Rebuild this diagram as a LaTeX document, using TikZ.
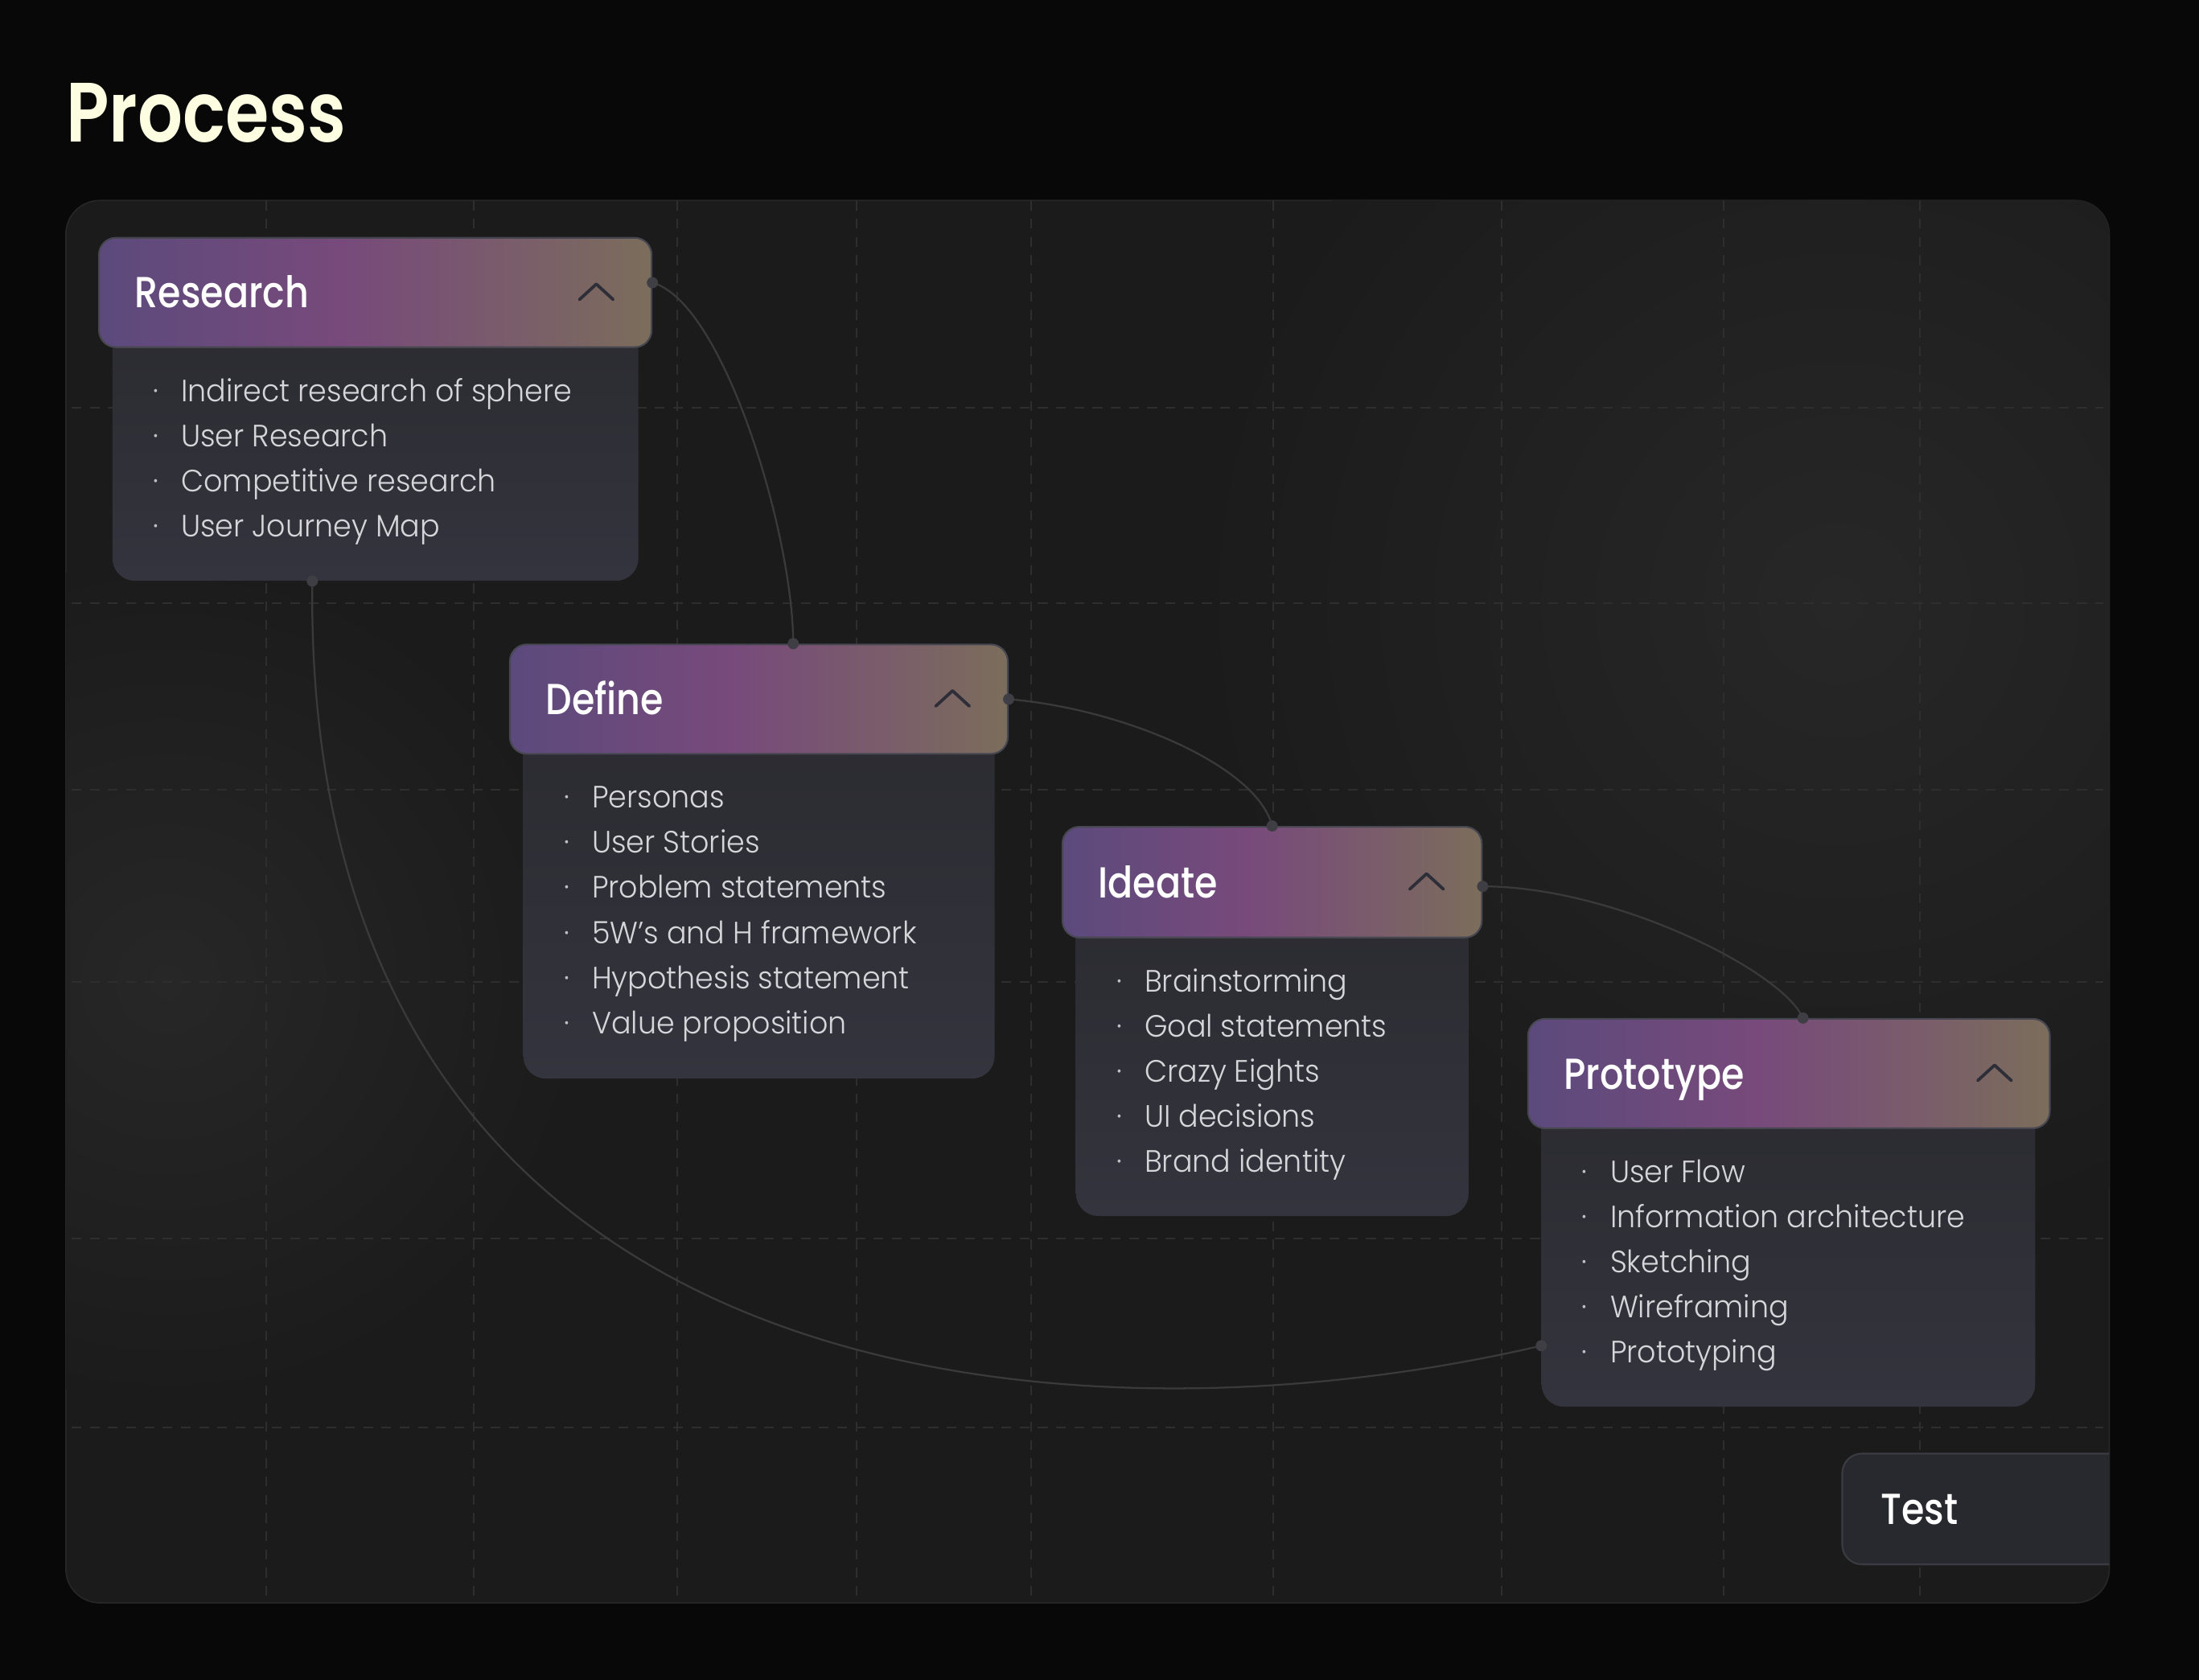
\documentclass[tikz,border=0pt]{standalone}
\usepackage{fontspec}
\setmainfont{Poppins}
\newfontfamily\titlefont{Poppins SemiBold}[FakeStretch=0.84]
\newfontfamily\headfont{Poppins Medium}[FakeStretch=0.85]
\newfontfamily\itemfont{Poppins Light}[FakeStretch=0.95]

\definecolor{bgblack}{HTML}{080808}
\definecolor{panelbg}{HTML}{1B1B1B}
\definecolor{panelline}{HTML}{262626}
\definecolor{gridline}{HTML}{2E2E2E}
\definecolor{glow}{HTML}{272727}
\definecolor{hdA}{HTML}{5C4A7C}
\definecolor{hdB}{HTML}{774A7B}
\definecolor{hdC}{HTML}{7A5C6B}
\definecolor{hdD}{HTML}{7B6D5B}
\definecolor{headline}{HTML}{474752}
\definecolor{bodytop}{HTML}{2B2B31}
\definecolor{bodybot}{HTML}{34343E}
\definecolor{itemtxt}{HTML}{D6D6DA}
\definecolor{bulletcol}{HTML}{C0C0C5}
\definecolor{chevgray}{HTML}{2E2E38}
\definecolor{linkgray}{HTML}{3A3A3A}
\definecolor{dotgray}{HTML}{3E3E44}
\definecolor{testfill}{HTML}{28282F}
\definecolor{testline}{HTML}{3B3B44}
\definecolor{titlecol}{HTML}{FDFDE2}

\pgfdeclarehorizontalshading{headshade}{100bp}{color(0bp)=(hdA); color(25bp)=(hdA);
  color(47bp)=(hdB); color(62bp)=(hdC); color(75bp)=(hdD); color(100bp)=(hdD)}

% chevron in the right part of a header
\newcommand\chevup[1]{\draw[chev] ([xshift=-52pt,yshift=-5pt]#1.east) -- ([xshift=-40pt,yshift=6pt]#1.east) -- ([xshift=-28pt,yshift=-5pt]#1.east);}
% bullet list under a header
\newcommand\cardlist[2]{%
  \foreach \t [count=\i, evaluate=\i as \dy using -38-32.2*(\i-1)] in {#2} {
    \node[bullet] (#1-b\i) at ([xshift=41pt,yshift=\dy pt]#1.south west) {·};
    \node[item] (#1-\i) at ([xshift=59pt,yshift=\dy pt]#1.south west) {\t};
  }}

\begin{document}
\begin{tikzpicture}[x=1pt,y=-1pt,
  head/.style={draw=headline,line width=1.2pt,rounded corners=12pt,shade,shading=headshade,anchor=north west,inner sep=0pt},
  body/.style={top color=bodytop,bottom color=bodybot,rounded corners=16pt,anchor=north west,inner sep=0pt},
  ttl/.style={anchor=base west,inner sep=0pt,text=white,font=\headfont\fontsize{31}{31}\selectfont},
  item/.style={anchor=base west,inner sep=0pt,text=itemtxt,font=\itemfont\fontsize{22}{22}\selectfont},
  bullet/.style={anchor=base,inner sep=0pt,text=bulletcol,font=\itemfont\fontsize{22}{22}\selectfont},
  chev/.style={draw=chevgray,line width=2.2pt,line cap=round,line join=round},
  link/.style={draw=linkgray,line width=1.3pt},
  grid/.style={draw=gridline,line width=1.1pt,dash pattern=on 7pt off 6pt}]

  \useasboundingbox (0,0) rectangle (1568,1198);
  \fill[bgblack] (0,0) rectangle (1568,1198);

  \node[anchor=base west,inner sep=0pt,text=titlecol,font=\titlefont\fontsize{60}{60}\selectfont] (title) at (47,101) {Process};

  % canvas
  \draw[panelline,fill=panelbg,line width=1pt,rounded corners=24pt] (47,143) rectangle (1504,1143);
  \begin{scope}
    \clip[rounded corners=24pt] (47,143) rectangle (1504,1143);
    \shade[inner color=glow,outer color=panelbg] (1310,430) circle (460pt);
    \shade[inner color=glow,outer color=panelbg] (120,700) circle (300pt);
    \foreach \gx in {190,338,483,611,735,908,1071,1229,1369}
      \draw[grid] (\gx,143) -- (\gx,1143);
    \foreach \gy in {291,430,563,700,883,1018}
      \draw[grid] (51,\gy) -- (1500,\gy);
    \node[draw=testline,fill=testfill,line width=1.2pt,rounded corners=14pt,anchor=north west,inner sep=0pt,
      minimum width=240pt,minimum height=79pt] (ts) at (1313,1036) {};
    \node[ttl] (ts-t) at ([xshift=28pt,yshift=-11pt]ts.west) {Test};
  \end{scope}

  % Research
  \node[body,minimum width=375pt,minimum height=182pt] (rsb) at (80,232) {};
  \node[head,minimum width=394pt,minimum height=78pt] (rs) at (70,169) {};
  \node[ttl] (rs-t) at ([xshift=26pt,yshift=-11pt]rs.west) {Research};
  \chevup{rs}
  \cardlist{rs}{Indirect research of sphere,User Research,Competitive research,User Journey Map}

  % Define
  \node[body,minimum width=336pt,minimum height=247pt] (dfb) at (373,522) {};
  \node[head,minimum width=355pt,minimum height=78pt] (df) at (363,459) {};
  \node[ttl] (df-t) at ([xshift=26pt,yshift=-11pt]df.west) {Define};
  \chevup{df}
  \cardlist{df}{Personas,User Stories,Problem statements,5W’s and H framework,Hypothesis statement,Value proposition}

  % Ideate
  \node[body,minimum width=280pt,minimum height=215pt] (idb) at (767,652) {};
  \node[head,minimum width=299pt,minimum height=79pt] (id) at (757,589) {};
  \node[ttl] (id-t) at ([xshift=26pt,yshift=-11pt]id.west) {Ideate};
  \chevup{id}
  \cardlist{id}{Brainstorming,Goal statements,Crazy Eights,UI decisions,Brand identity}

  % Prototype
  \node[body,minimum width=352pt,minimum height=215pt] (ptb) at (1099,788) {};
  \node[head,minimum width=372pt,minimum height=78pt] (pt) at (1089,726) {};
  \node[ttl] (pt-t) at ([xshift=26pt,yshift=-11pt]pt.west) {Prototype};
  \chevup{pt}
  \cardlist{pt}{User Flow,Information architecture,Sketching,Wireframing,Prototyping}

  % connectors
  \coordinate (rs-o) at ([yshift=7pt]rs.east);
  \coordinate (df-i) at ([xshift=24.5pt]df.north);
  \coordinate (df-o) at (df.east);
  \coordinate (id-i) at (id.north);
  \coordinate (id-o) at ([yshift=-3pt]id.east);
  \coordinate (pt-i) at ([xshift=10pt]pt.north);
  \coordinate (rsb-o) at ([xshift=-45pt]rsb.south);
  \coordinate (ptb-i) at ([yshift=-64pt]ptb.west);
  \draw[link] (rs-o) .. controls +(51,14) and +(0,-77) .. (df-i);
  \draw[link] (df-o) .. controls +(82,7) and +(-11,-43) .. (id-i);
  \draw[link] (id-o) .. controls +(93,0) and +(-15,-34) .. (pt-i);
  \draw[link] (rsb-o) .. controls +(-7,584) and +(-339,79) .. (ptb-i);
  \foreach \p in {rs-o,df-i,df-o,id-i,id-o,pt-i,rsb-o,ptb-i}
    \fill[dotgray] (\p) circle (4pt);
\end{tikzpicture}
\end{document}
